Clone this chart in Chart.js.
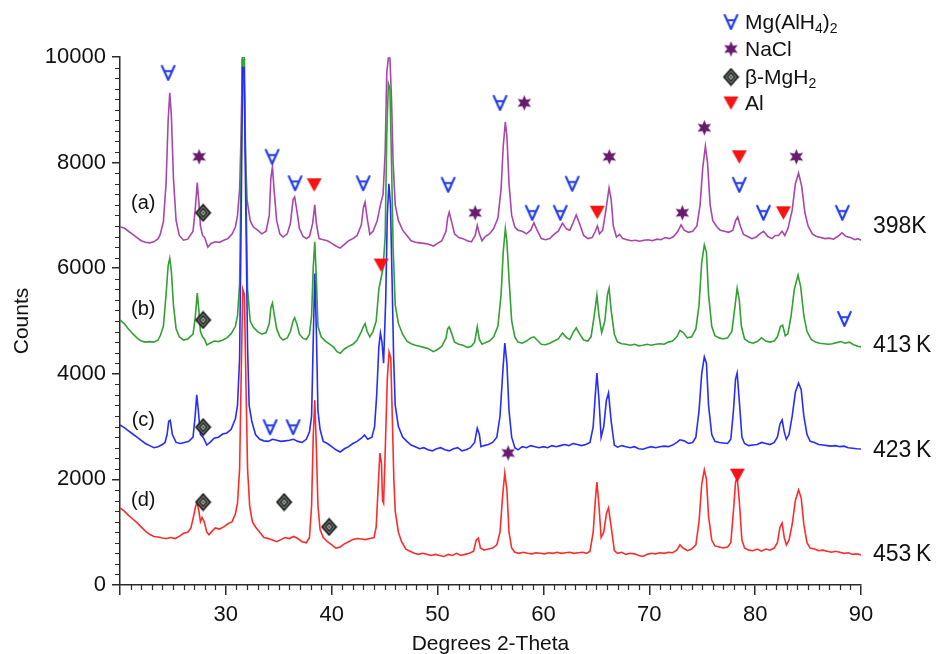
<!DOCTYPE html>
<html>
<head>
<meta charset="utf-8">
<script src="https://cdn.jsdelivr.net/npm/chart.js@4.4.0/dist/chart.umd.min.js"></script>
<style>
  html, body { margin: 0; padding: 0; background: #fff; }
  #xrd-wrap { width: 936px; height: 654px; }
</style>
</head>
<body>
<div id="xrd-wrap"><canvas id="xrd" width="936" height="654"></canvas></div>
<script>
// XRD scans after heating, [2-theta, counts]
const scan398K = [[20.0,6780],[20.4,6760],[20.8,6700],[21.2,6640],[21.6,6580],[22.0,6520],[22.4,6490],[22.8,6480],[23.2,6500],[23.6,6560],
  [23.8,6640],[24.1,6880],[24.35,7600],[24.55,8800],[24.7,9320],[24.85,8900],[25.05,7700],[25.3,6900],[25.6,6620],[26.0,6530],
  [26.4,6550],[26.9,6700],[27.1,7100],[27.3,7620],[27.45,7250],[27.6,6800],[27.8,6620],[28.0,6580],[28.3,6400],[28.6,6470],
  [29.0,6500],[29.4,6490],[29.8,6530],[30.2,6560],[30.6,6650],[30.9,6780],[31.1,7000],[31.3,7500],[31.45,8600],[31.55,9950],
  [31.7,9950],[31.85,8200],[32.0,7300],[32.3,6900],[32.6,6780],[33.0,6720],[33.4,6650],[33.8,6700],[34.1,7000],[34.25,7700],
  [34.4,7920],[34.55,7500],[34.8,6900],[35.1,6650],[35.4,6590],[35.8,6650],[36.1,6850],[36.35,7300],[36.5,7350],[36.7,7100],
  [36.95,6750],[37.3,6600],[37.6,6560],[37.9,6600],[38.2,6850],[38.4,7200],[38.55,6850],[38.8,6560],[39.2,6540],[39.6,6520],
  [40.0,6470],[40.4,6420],[40.8,6380],[41.2,6450],[41.6,6520],[42.0,6560],[42.4,6620],[42.8,6820],[43.0,7150],[43.15,7250],
  [43.35,6950],[43.6,6640],[43.9,6700],[44.3,6900],[44.6,7200],[44.85,7400],[45.05,8200],[45.2,9700],[45.35,9980],[45.5,9980],
  [45.65,9200],[45.8,8000],[46.0,7200],[46.3,6900],[46.7,6720],[47.1,6620],[47.5,6520],[47.9,6490],[48.3,6480],[48.7,6470],
  [49.1,6460],[49.6,6420],[50.0,6470],[50.4,6520],[50.8,6700],[50.95,6950],[51.1,7060],[51.3,6900],[51.6,6650],[52.0,6580],
  [52.4,6560],[52.8,6520],[53.2,6500],[53.55,6620],[53.75,6810],[53.95,6650],[54.2,6520],[54.5,6600],[54.9,6650],[55.3,6750],
  [55.7,6950],[56.0,7500],[56.2,8300],[56.4,8770],[56.55,8500],[56.75,7600],[57.0,7000],[57.3,6780],[57.6,6720],[58.0,6700],
  [58.4,6650],[58.8,6720],[59.1,6860],[59.4,6720],[59.8,6560],[60.2,6540],[60.6,6560],[61.0,6640],[61.4,6700],[61.8,6850],
  [62.2,6740],[62.5,6720],[62.8,6860],[63.1,7010],[63.4,6850],[63.8,6620],[64.2,6560],[64.6,6580],[64.9,6700],[65.1,6800],
  [65.3,6650],[65.6,6720],[65.9,7100],[66.2,7520],[66.4,7300],[66.6,6800],[66.9,6590],[67.2,6640],[67.5,6560],[67.9,6540],
  [68.3,6520],[68.7,6530],[69.1,6510],[69.5,6530],[69.9,6540],[70.3,6520],[70.7,6550],[71.1,6540],[71.5,6580],[71.9,6560],
  [72.3,6600],[72.7,6700],[73.0,6820],[73.3,6720],[73.7,6680],[74.1,6700],[74.5,6800],[74.8,7200],[75.05,7900],[75.3,8310],
  [75.5,8000],[75.75,7200],[76.0,6900],[76.4,6780],[76.7,6720],[77.1,6700],[77.5,6680],[77.9,6720],[78.15,6900],[78.35,6970],
  [78.6,6800],[78.9,6640],[79.3,6600],[79.7,6560],[80.1,6590],[80.5,6660],[80.8,6700],[81.2,6600],[81.6,6560],[81.9,6620],
  [82.2,6620],[82.55,6700],[82.8,6620],[83.1,6750],[83.5,7100],[83.8,7600],[84.1,7800],[84.4,7550],[84.7,7050],[85.0,6800],
  [85.4,6650],[85.8,6600],[86.2,6580],[86.6,6560],[87.0,6570],[87.4,6550],[87.8,6600],[88.2,6670],[88.6,6600],[89.0,6580],
  [89.4,6540],[89.7,6560],[90.0,6530]];

const scan413K = [[20.0,5020],[20.4,4950],[20.8,4850],[21.2,4760],[21.6,4680],[22.0,4620],[22.4,4600],[22.8,4610],[23.2,4600],[23.6,4640],
  [23.8,4720],[24.1,4900],[24.35,5500],[24.55,6050],[24.7,6190],[24.85,5950],[25.05,5300],[25.3,4850],[25.6,4700],[26.0,4640],
  [26.4,4660],[26.9,4750],[27.1,5050],[27.3,5530],[27.45,5200],[27.6,4800],[27.8,4700],[28.0,4650],[28.2,4545],[28.5,4580],
  [28.9,4620],[29.3,4610],[29.7,4640],[30.1,4680],[30.5,4760],[30.9,4900],[31.1,5100],[31.3,5700],[31.45,8000],[31.55,10000],
  [31.75,10000],[31.9,7500],[32.05,5600],[32.3,5000],[32.6,4880],[33.0,4800],[33.4,4750],[33.8,4780],[34.1,4950],[34.25,5250],
  [34.4,5340],[34.55,5150],[34.8,4850],[35.1,4700],[35.4,4640],[35.8,4680],[36.1,4800],[36.35,5000],[36.5,5060],[36.7,4950],
  [36.95,4750],[37.3,4670],[37.6,4650],[37.9,4750],[38.1,5100],[38.25,6000],[38.4,6500],[38.55,5800],[38.7,4900],[39.0,4700],
  [39.4,4620],[39.8,4560],[40.2,4500],[40.5,4420],[40.8,4390],[41.2,4470],[41.6,4520],[42.0,4560],[42.4,4640],[42.8,4800],
  [43.0,4900],[43.15,4950],[43.35,4800],[43.6,4700],[43.9,4800],[44.2,5000],[44.45,5600],[44.65,5800],[44.85,6000],[45.05,6600],
  [45.2,8500],[45.35,9500],[45.5,9400],[45.65,8000],[45.8,6400],[46.0,5300],[46.3,4950],[46.7,4750],[47.1,4620],[47.5,4570],
  [47.9,4540],[48.3,4520],[48.7,4500],[49.1,4480],[49.6,4420],[50.0,4460],[50.4,4520],[50.8,4680],[50.95,4850],[51.1,4890],
  [51.3,4780],[51.6,4600],[52.0,4560],[52.4,4540],[52.8,4500],[53.2,4520],[53.5,4600],[53.75,4890],[53.95,4650],[54.2,4560],
  [54.5,4590],[54.9,4620],[55.3,4700],[55.7,4900],[56.0,5500],[56.2,6300],[56.4,6750],[56.55,6500],[56.75,5800],[57.0,5000],
  [57.3,4700],[57.6,4600],[58.0,4580],[58.4,4620],[58.8,4680],[59.1,4700],[59.4,4640],[59.8,4560],[60.2,4550],[60.6,4580],
  [61.0,4620],[61.4,4660],[61.8,4770],[62.2,4680],[62.5,4650],[62.8,4780],[63.1,4870],[63.4,4760],[63.8,4640],[64.2,4620],
  [64.5,4700],[64.8,5100],[65.05,5490],[65.25,5100],[65.5,4780],[65.8,5000],[66.05,5500],[66.2,5620],[66.4,5200],[66.7,4750],
  [67.0,4600],[67.4,4570],[67.8,4560],[68.2,4540],[68.6,4560],[69.0,4530],[69.4,4540],[69.8,4560],[70.2,4540],[70.6,4560],
  [71.0,4570],[71.4,4560],[71.8,4600],[72.2,4620],[72.6,4700],[72.9,4820],[73.2,4780],[73.6,4680],[74.0,4700],[74.4,4850],
  [74.7,5300],[74.95,6100],[75.2,6440],[75.4,6300],[75.6,5500],[75.9,4900],[76.2,4720],[76.6,4680],[77.0,4660],[77.4,4680],
  [77.8,4800],[78.05,5200],[78.3,5620],[78.5,5400],[78.7,4900],[79.0,4660],[79.4,4600],[79.8,4580],[80.2,4610],[80.6,4680],
  [81.0,4620],[81.4,4600],[81.8,4620],[82.1,4700],[82.4,4900],[82.6,4920],[82.85,4720],[83.1,4760],[83.4,5100],[83.7,5600],
  [84.05,5870],[84.3,5650],[84.6,5100],[84.9,4800],[85.3,4650],[85.7,4600],[86.1,4580],[86.5,4570],[86.9,4560],[87.3,4570],
  [87.7,4590],[88.1,4610],[88.5,4580],[88.9,4600],[89.3,4550],[89.7,4520],[90.0,4510]];

const scan423K = [[20.0,3030],[20.4,2980],[20.8,2920],[21.2,2860],[21.6,2800],[22.0,2740],[22.4,2680],[22.8,2640],[23.2,2600],[23.6,2620],
  [24.0,2660],[24.25,2700],[24.45,2850],[24.6,3100],[24.75,3120],[24.95,2850],[25.3,2700],[25.7,2680],[26.1,2700],[26.5,2720],
  [26.9,2800],[27.1,3200],[27.25,3600],[27.4,3300],[27.6,2850],[27.9,2780],[28.2,2650],[28.5,2700],[28.9,2780],[29.3,2800],
  [29.7,2860],[30.1,2880],[30.5,2950],[30.9,3150],[31.1,3400],[31.3,4300],[31.45,7000],[31.58,9800],[31.72,9800],[31.88,7200],
  [32.05,4500],[32.2,3400],[32.45,3100],[32.8,2850],[33.2,2760],[33.6,2730],[34.0,2720],[34.4,2760],[34.8,2740],[35.2,2720],
  [35.6,2730],[36.0,2740],[36.4,2760],[36.8,2720],[37.2,2700],[37.6,2760],[37.9,2900],[38.1,3200],[38.25,4600],[38.4,5900],
  [38.55,4800],[38.7,3300],[38.9,2950],[39.2,2720],[39.6,2680],[40.0,2620],[40.4,2560],[40.8,2520],[41.2,2580],[41.6,2620],
  [42.0,2680],[42.4,2720],[42.8,2780],[43.1,2840],[43.4,2760],[43.8,2800],[44.05,3000],[44.25,3600],[44.45,4500],[44.6,4770],
  [44.75,4600],[44.9,4200],[45.1,5400],[45.25,7000],[45.4,7600],[45.55,7200],[45.7,5800],[45.85,4300],[46.0,3400],[46.3,3000],
  [46.7,2800],[47.1,2720],[47.5,2650],[47.9,2620],[48.3,2580],[48.7,2600],[49.1,2560],[49.5,2540],[49.9,2580],[50.3,2600],
  [50.7,2560],[51.1,2540],[51.5,2580],[51.9,2600],[52.3,2540],[52.7,2560],[53.1,2600],[53.5,2700],[53.75,2970],[53.95,2850],
  [54.1,2620],[54.4,2640],[54.8,2660],[55.2,2700],[55.6,2800],[55.9,3200],[56.15,4000],[56.35,4580],[56.55,4200],[56.75,3300],
  [57.0,2800],[57.3,2600],[57.6,2560],[58.0,2620],[58.4,2600],[58.8,2640],[59.2,2620],[59.6,2600],[60.0,2620],[60.4,2600],
  [60.8,2640],[61.2,2620],[61.6,2640],[62.0,2660],[62.4,2640],[62.8,2680],[63.2,2660],[63.6,2640],[64.0,2660],[64.4,2700],
  [64.7,3000],[64.9,3600],[65.05,4015],[65.25,3500],[65.45,2800],[65.7,3000],[65.95,3500],[66.15,3640],[66.4,3100],[66.7,2650],
  [67.0,2610],[67.4,2640],[67.8,2620],[68.2,2600],[68.6,2620],[69.0,2580],[69.4,2570],[69.8,2600],[70.2,2620],[70.6,2600],
  [71.0,2620],[71.4,2630],[71.8,2620],[72.2,2650],[72.6,2700],[72.9,2750],[73.3,2730],[73.7,2680],[74.1,2700],[74.4,2800],
  [74.7,3300],[74.95,4000],[75.2,4320],[75.4,4200],[75.6,3400],[75.9,2850],[76.2,2720],[76.6,2700],[77.0,2690],[77.4,2680],
  [77.7,2760],[77.95,3300],[78.15,3900],[78.3,4015],[78.5,3500],[78.75,2800],[79.0,2680],[79.4,2640],[79.8,2650],[80.2,2660],
  [80.6,2700],[81.0,2680],[81.4,2660],[81.8,2700],[82.1,2800],[82.35,3050],[82.55,3125],[82.75,2900],[82.95,2760],[83.2,2850],
  [83.5,3200],[83.8,3650],[84.1,3825],[84.35,3700],[84.6,3200],[84.9,2850],[85.2,2720],[85.6,2700],[86.0,2660],[86.4,2650],
  [86.8,2640],[87.2,2630],[87.6,2640],[88.0,2620],[88.4,2630],[88.8,2600],[89.2,2590],[89.6,2580],[90.0,2575]];

const scan453K = [[20.0,1460],[20.4,1400],[20.8,1320],[21.2,1250],[21.6,1180],[22.0,1100],[22.4,1020],[22.8,960],[23.2,920],[23.6,910],
  [24.0,890],[24.4,880],[24.8,900],[25.2,880],[25.6,920],[26.0,980],[26.4,1000],[26.7,1080],[26.95,1300],[27.15,1500],
  [27.3,1550],[27.45,1400],[27.6,1200],[27.75,1280],[27.95,1200],[28.2,1000],[28.4,950],[28.7,1020],[29.0,1080],[29.4,1060],
  [29.8,1100],[30.2,1160],[30.6,1200],[30.9,1350],[31.1,1550],[31.3,2200],[31.45,4000],[31.6,5600],[31.75,5500],[31.9,3800],
  [32.05,2200],[32.25,1500],[32.5,1200],[32.8,1100],[33.2,1000],[33.6,900],[34.0,880],[34.4,850],[34.8,820],[35.2,860],
  [35.6,900],[36.0,880],[36.4,920],[36.8,880],[37.2,820],[37.6,800],[37.9,900],[38.1,1500],[38.25,2800],[38.4,3500],
  [38.55,2600],[38.7,1500],[38.9,1050],[39.2,900],[39.6,820],[40.0,760],[40.4,700],[40.8,720],[41.2,780],[41.6,820],
  [42.0,860],[42.4,880],[42.8,870],[43.2,860],[43.6,880],[44.0,900],[44.2,1100],[44.4,1900],[44.55,2500],[44.7,2300],
  [44.8,1600],[44.9,1550],[45.05,2500],[45.25,3900],[45.42,4410],[45.58,4300],[45.72,3200],[45.87,2000],[46.0,1400],[46.3,1000],
  [46.6,820],[47.0,680],[47.4,640],[47.8,600],[48.2,580],[48.6,600],[49.0,580],[49.4,560],[49.8,580],[50.2,560],
  [50.6,540],[51.0,580],[51.4,560],[51.8,600],[52.2,560],[52.6,580],[53.0,600],[53.4,640],[53.65,850],[53.85,890],
  [54.05,700],[54.4,660],[54.8,680],[55.2,700],[55.6,760],[55.9,1000],[56.15,1700],[56.35,2120],[56.55,1800],[56.75,1000],
  [57.0,700],[57.3,620],[57.7,600],[58.1,620],[58.5,600],[58.9,590],[59.3,610],[59.7,600],[60.1,590],[60.5,610],
  [60.9,600],[61.3,620],[61.7,600],[62.1,610],[62.5,620],[62.9,600],[63.3,610],[63.7,620],[64.1,600],[64.4,640],
  [64.7,1000],[64.9,1600],[65.05,1950],[65.25,1500],[65.45,900],[65.7,1000],[65.95,1350],[66.15,1460],[66.4,1100],[66.7,650],
  [67.0,600],[67.4,620],[67.8,580],[68.2,600],[68.6,590],[69.0,560],[69.4,540],[69.8,580],[70.2,600],[70.6,590],
  [71.0,610],[71.4,600],[71.8,620],[72.2,610],[72.6,660],[72.9,760],[73.2,700],[73.6,650],[74.0,680],[74.4,760],
  [74.7,1200],[74.95,1900],[75.2,2180],[75.4,2000],[75.6,1300],[75.9,850],[76.2,740],[76.6,720],[77.0,700],[77.4,720],
  [77.7,800],[77.95,1400],[78.15,1950],[78.3,2045],[78.5,1600],[78.75,850],[79.0,700],[79.4,660],[79.8,650],[80.2,680],
  [80.6,640],[81.0,680],[81.4,660],[81.8,700],[82.1,800],[82.35,1100],[82.55,1175],[82.75,900],[82.95,760],[83.2,850],
  [83.5,1150],[83.8,1600],[84.1,1800],[84.35,1650],[84.6,1150],[84.9,800],[85.2,700],[85.6,680],[86.0,650],[86.4,660],
  [86.8,640],[87.2,620],[87.6,640],[88.0,620],[88.4,600],[88.8,610],[89.2,580],[89.6,590],[90.0,570]];

// phase identification marks, [2-theta, counts]
const alanateMarks = [[24.55,9700],[34.37,8110],[36.54,7610],[42.97,7610],[51.0,7580],[55.9,9130],[58.94,7050],[61.59,7050],
  [62.72,7600],[78.5,7580],[80.78,7050],[88.24,7050],[88.43,5040],[34.18,2990],[36.35,2990]];
const naclMarks = [[31.25,10200],[45.71,10200],[27.47,8110],[58.19,9130],[53.55,7050],[66.22,8110],[73.12,7050],
  [75.2,8660],[83.89,8110],[56.67,2500]];
const mgh2Marks = [[27.85,7050],[27.85,5020],[27.85,2990],[27.85,1570],[35.5,1570],[39.75,1100]];
const alMarks = [[38.34,7580],[44.67,6060],[65.08,7060],[78.5,8110],[82.67,7050],[78.32,2080]];

const sampleTags = ['(a)', '(b)', '(c)', '(d)'];
const sampleTagCounts = [7235, 5210, 3125, 1610];
const tempTags = ['398K', '413\u2009K', '423\u2009K', '453\u2009K'];
const tempTagCounts = [6780, 4530, 2540, 570];

const FONT = "'Liberation Sans', Arial, sans-serif";
const AXIS = '#2a2a2a';

function symbolCanvas(w, h, draw) {
  const c = document.createElement('canvas');
  c.width = w; c.height = h;
  draw(c.getContext('2d'));
  return c;
}

// Mg(AlH4)2 : "∀" mark
const alanateSym = symbolCanvas(17, 18, g => {
  g.strokeStyle = 'rgb(35,60,235)';
  g.lineWidth = 2.1; g.lineJoin = 'round'; g.lineCap = 'round';
  g.beginPath();
  g.moveTo(2.2, 2); g.lineTo(8.5, 16); g.lineTo(14.8, 2);
  g.moveTo(4.6, 7.3); g.lineTo(12.4, 7.3);
  g.stroke();
});
// NaCl : six point star
const naclSym = symbolCanvas(17, 17, g => {
  g.fillStyle = 'rgb(105,25,110)';
  g.beginPath();
  for (let i = 0; i < 12; i++) {
    const r = i % 2 ? 3.8 : 7.8;
    const a = -Math.PI / 2 + i * Math.PI / 6;
    g.lineTo(8.5 + r * Math.cos(a), 8.5 + r * Math.sin(a));
  }
  g.closePath(); g.fill();
});
// beta-MgH2 : framed diamond
const mgh2Sym = symbolCanvas(17, 19, g => {
  g.fillStyle = 'rgb(120,135,120)';
  g.strokeStyle = '#151515';
  g.lineWidth = 1.8;
  g.beginPath();
  g.moveTo(8.5, 1.5); g.lineTo(15.5, 9.5); g.lineTo(8.5, 17.5); g.lineTo(1.5, 9.5); g.closePath();
  g.fill(); g.stroke();
  g.fillStyle = 'rgb(215,225,215)';
  g.lineWidth = 1.3;
  g.beginPath();
  g.moveTo(8.5, 5.5); g.lineTo(12, 9.5); g.lineTo(8.5, 13.5); g.lineTo(5, 9.5); g.closePath();
  g.fill(); g.stroke();
  g.fillStyle = '#151515';
  g.fillRect(7.5, 8.5, 2, 2);
});
// Al : filled down triangle
const alSym = symbolCanvas(17, 15, g => {
  g.fillStyle = 'rgb(245,20,20)';
  g.beginPath();
  g.moveTo(1, 1); g.lineTo(16, 1); g.lineTo(8.5, 14.5); g.closePath();
  g.fill();
});

const toXY = arr => arr.map(p => ({ x: p[0], y: p[1] }));

function scanSet(label, scan, color, order) {
  return {
    label, data: toXY(scan), borderColor: color, borderWidth: 1.6,
    pointRadius: 0, tension: 0, fill: false, order
  };
}
function markSet(label, marks, sym) {
  return {
    label, data: toXY(marks), showLine: false, pointStyle: sym,
    pointRadius: 8, pointHoverRadius: 8, clip: false, order: 0
  };
}

// subscript aware text
function drawRich(ctx, parts, x, y, size) {
  let cx = x;
  for (const [txt, sub] of parts) {
    ctx.font = (sub ? Math.round(size * 0.68) : size) + 'px ' + FONT;
    ctx.fillText(txt, cx, sub ? y + size * 0.3 : y);
    cx += ctx.measureText(txt).width;
  }
}

const annotations = {
  id: 'annotations',
  afterDraw(chart) {
    const { ctx, chartArea, scales: { x, y } } = chart;
    ctx.save();

    // minor ticks
    ctx.strokeStyle = AXIS;
    ctx.lineWidth = 1.2;
    ctx.beginPath();
    for (let v = 200; v < 10000; v += 200) {
      if (v % 2000 === 0) continue;
      const py = Math.round(y.getPixelForValue(v)) + 0.5;
      ctx.moveTo(chartArea.left - 5, py); ctx.lineTo(chartArea.left, py);
    }
    for (let t = 21; t < 90; t++) {
      if (t % 10 === 0) continue;
      const px = Math.round(x.getPixelForValue(t)) + 0.5;
      ctx.moveTo(px, chartArea.bottom); ctx.lineTo(px, chartArea.bottom + 5);
    }
    ctx.stroke();

    ctx.fillStyle = '#111';
    ctx.textBaseline = 'middle';

    // x axis title, sits low against the bottom edge
    ctx.font = '21px ' + FONT;
    ctx.textAlign = 'center';
    ctx.fillText('Degrees 2-Theta', (chartArea.left + chartArea.right) / 2, chartArea.bottom + 59);

    // sample tags on the left
    ctx.font = '20px ' + FONT;
    sampleTags.forEach((t, i) => ctx.fillText(t, x.getPixelForValue(22.2), y.getPixelForValue(sampleTagCounts[i])));

    // temperatures on the right
    ctx.font = '23px ' + FONT;
    ctx.textAlign = 'left';
    tempTags.forEach((t, i) => ctx.fillText(t, chartArea.right + 12, y.getPixelForValue(tempTagCounts[i])));

    // phase key
    const keyRows = [
      [alanateSym, [['Mg(AlH', 0], ['4', 1], [')', 0], ['2', 1]]],
      [naclSym, [['NaCl', 0]]],
      [mgh2Sym, [['\u03b2-MgH', 0], ['2', 1]]],
      [alSym, [['Al', 0]]]
    ];
    const rowY = [22, 49, 77, 103];
    keyRows.forEach(([sym, parts], i) => {
      ctx.drawImage(sym, 731 - sym.width / 2, rowY[i] - sym.height / 2);
      drawRich(ctx, parts, 745, rowY[i] + 1, 21);
    });

    ctx.restore();
  }
};

new Chart(document.getElementById('xrd'), {
  type: 'line',
  data: {
    datasets: [
      markSet('Mg(AlH4)2', alanateMarks, alanateSym),
      markSet('NaCl', naclMarks, naclSym),
      markSet('beta-MgH2', mgh2Marks, mgh2Sym),
      markSet('Al', alMarks, alSym),
      scanSet('453 K', scan453K, 'rgb(250,45,45)', 1),
      scanSet('423 K', scan423K, 'rgb(40,45,245)', 2),
      scanSet('413 K', scan413K, 'rgb(50,160,50)', 3),
      scanSet('398 K', scan398K, 'rgb(168,70,172)', 4)
    ]
  },
  options: {
    responsive: false,
    animation: false,
    devicePixelRatio: 1,
    layout: { padding: { left: 0, right: 75, top: 57, bottom: 0 } },
    plugins: { legend: { display: false }, tooltip: { enabled: false } },
    scales: {
      x: {
        type: 'linear', min: 20, max: 90,
        afterFit: s => { s.height = 69; },
        ticks: {
          stepSize: 10, padding: 7, color: '#111',
          font: { family: FONT, size: 22 },
          callback: v => (v === 20 ? '' : String(v))
        },
        grid: { drawOnChartArea: false, drawTicks: true, tickLength: 10, color: AXIS, lineWidth: 1.5 },
        border: { display: true, color: AXIS, width: 1.5 }
      },
      y: {
        min: 0, max: 10000,
        afterFit: s => { s.width = 120; },
        ticks: {
          stepSize: 2000, padding: 6, color: '#111',
          font: { family: FONT, size: 22 },
          callback: v => String(v)
        },
        grid: { drawOnChartArea: false, drawTicks: true, tickLength: 8, color: AXIS, lineWidth: 1.5 },
        border: { display: true, color: AXIS, width: 1.5 },
        title: { display: true, text: 'Counts', color: '#111', font: { family: FONT, size: 21 }, padding: { top: 10, bottom: 0 } }
      }
    }
  },
  plugins: [annotations]
});
</script>
</body>
</html>
